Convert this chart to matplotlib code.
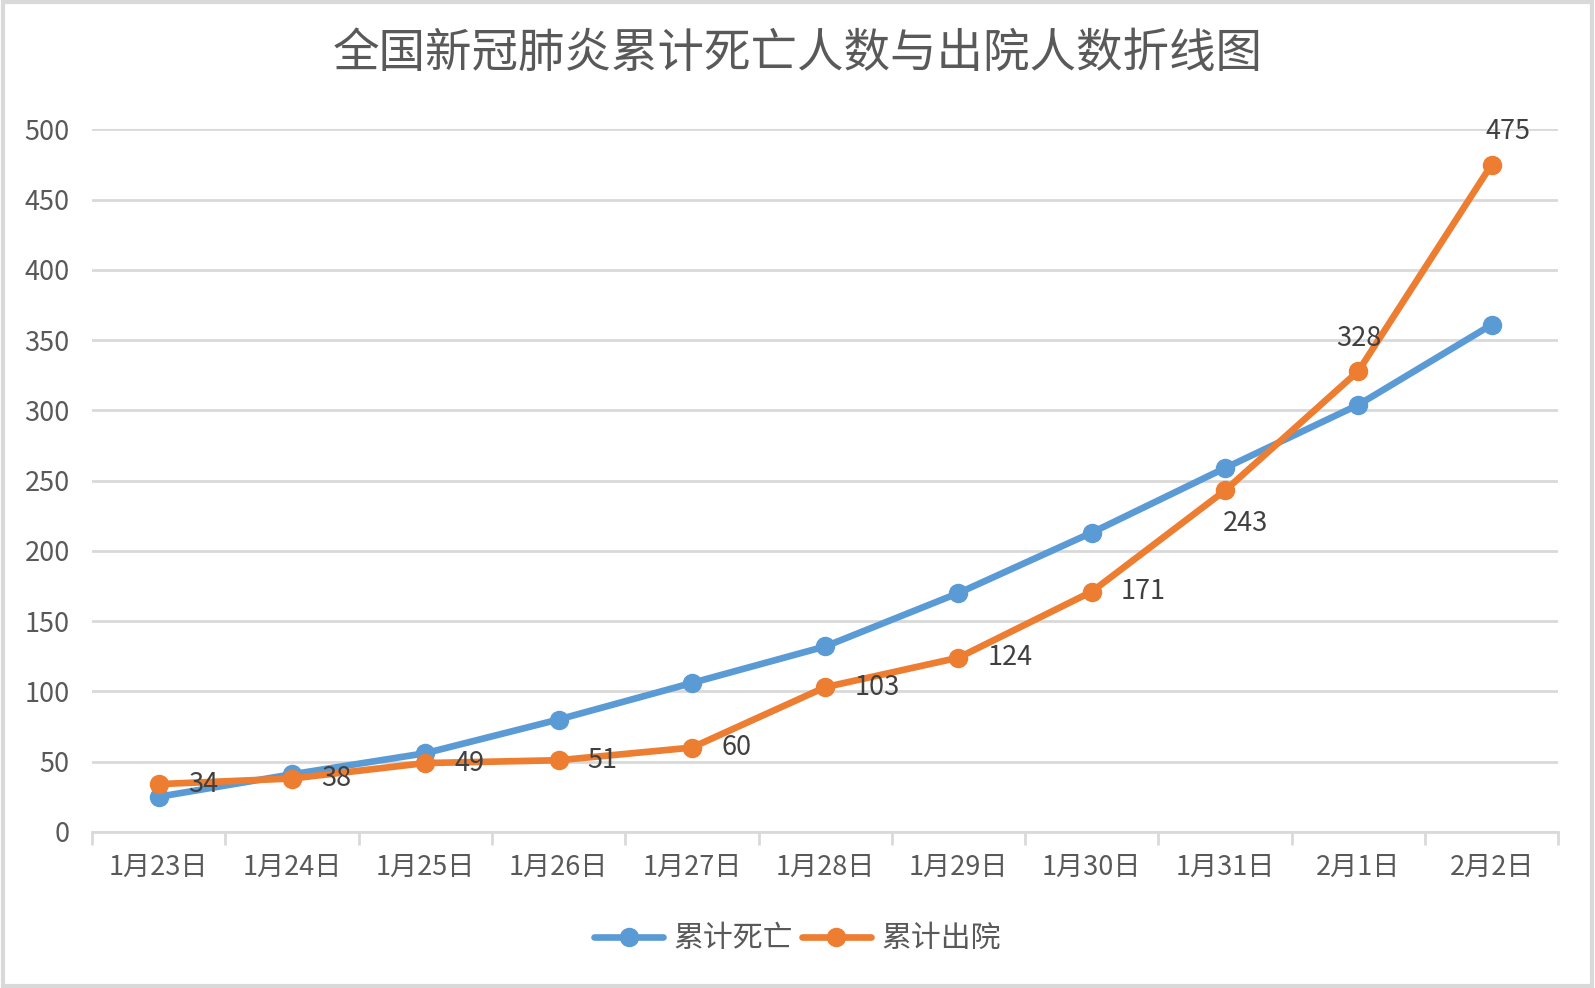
import matplotlib.pyplot as plt
import numpy as np

plt.rcParams['font.family'] = ['Noto Sans CJK SC', 'DejaVu Sans']

dates = ['1月23日', '1月24日', '1月25日', '1月26日', '1月27日', '1月28日',
         '1月29日', '1月30日', '1月31日', '2月1日', '2月2日']
deaths = [25, 41, 56, 80, 106, 132, 170, 213, 259, 304, 361]
cured = [34, 38, 49, 51, 60, 103, 124, 171, 243, 328, 475]
# where each orange label sits relative to its point
label_pos = ['r', 'r', 'r', 'r', 'r', 'r', 'r', 'r', 'b', 't', 't']
label_dx = [0, 0, 0, 0, 0, 0, 0, 0, 15, 0, 12]

blue = '#5B9BD5'
orange = '#ED7D31'
grid_c = '#D9D9D9'
txt_c = '#595959'

fig = plt.figure(figsize=(15.95, 9.88), dpi=100)
ax = fig.add_axes([0.0577, 0.158, 0.9193, 0.711])

x = np.arange(len(dates))
ax.plot(x, deaths, color=blue, lw=4.8, marker='o', ms=13, label='累计死亡',
        solid_capstyle='round', zorder=3)
ax.plot(x, cured, color=orange, lw=4.8, marker='o', ms=13, label='累计出院',
        solid_capstyle='round', zorder=4)

for xi, v, p, dx in zip(x, cured, label_pos, label_dx):
    if p == 'r':
        off, ha, va = (21 + dx, 0), 'left', 'center'
    elif p == 't':
        off, ha, va = (dx, 14), 'center', 'bottom'
    else:
        off, ha, va = (dx, -14), 'center', 'top'
    ax.annotate(str(v), (xi, v), xytext=off, textcoords='offset points',
                ha=ha, va=va, fontsize=19.5, color='#404040', zorder=5)

ax.set_xlim(-0.5, len(dates) - 0.5)
ax.set_ylim(0, 500)
ax.set_yticks(range(0, 501, 50))
ax.yaxis.grid(True, color=grid_c, lw=2)
ax.set_axisbelow(True)
ax.tick_params(axis='y', length=0, labelsize=19.5, labelcolor=txt_c, pad=16)

ax.set_xticks(x)
ax.set_xticklabels(dates)
ax.set_xticks(np.arange(-0.5, len(dates)), minor=True)
ax.tick_params(axis='x', which='major', length=0, labelsize=19.5,
               labelcolor=txt_c, pad=16)
ax.tick_params(axis='x', which='minor', length=9, width=2, color=grid_c)

for s in ['top', 'right', 'left']:
    ax.spines[s].set_visible(False)
ax.spines['bottom'].set_color(grid_c)
ax.spines['bottom'].set_linewidth(2)

fig.text(0.5, 0.946, '全国新冠肺炎累计死亡人数与出院人数折线图',
         ha='center', va='center', fontsize=33.5, color=txt_c)

fig.legend(loc='center', bbox_to_anchor=(0.5, 0.05), ncol=2, frameon=False,
           fontsize=21.5, labelcolor=txt_c, handlelength=2.3,
           columnspacing=0.3, handletextpad=0.35)

# light border around the whole picture
fig.patches.append(plt.Rectangle((0.002, 0.002), 0.996, 0.996,
                                 transform=fig.transFigure, fill=False,
                                 edgecolor='#D9D9D9', lw=3))

fig.savefig('out.png', dpi=100)
